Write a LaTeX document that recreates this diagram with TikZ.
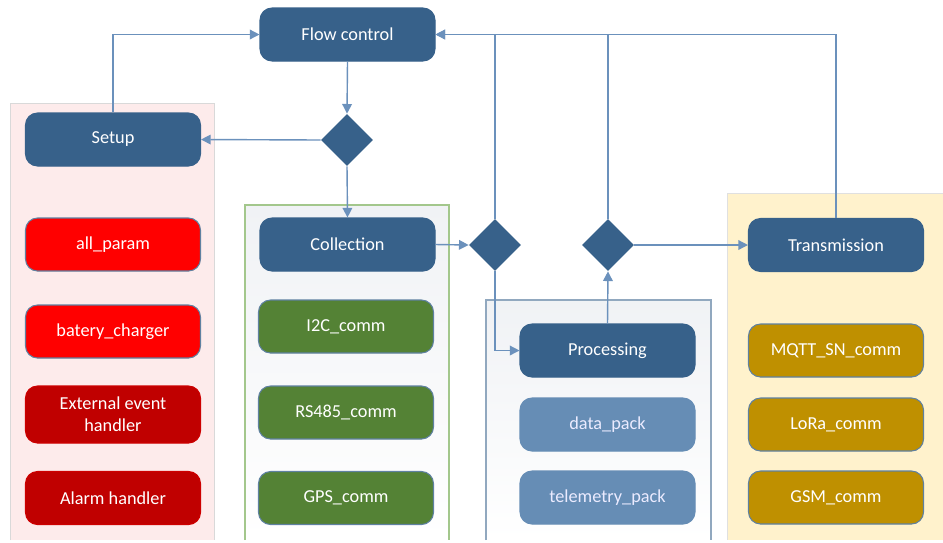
\documentclass[tikz,border=0pt]{standalone}
\usepackage{fontspec}
\setmainfont{Carlito}
\usetikzlibrary{shapes.geometric,arrows.meta}
\definecolor{boxblue}{HTML}{37618A}
\definecolor{linkblue}{HTML}{6B91BC}
\definecolor{lightblue}{HTML}{668DB5}
\definecolor{redbox}{HTML}{FF0000}
\definecolor{darkred}{HTML}{C00000}
\definecolor{greenbox}{HTML}{548235}
\definecolor{goldbox}{HTML}{BF9000}
\definecolor{pinkbg}{HTML}{FDEBEB}
\definecolor{yellowbg}{HTML}{FFF2CC}
\definecolor{greenedge}{HTML}{A3C78C}
\definecolor{greybg}{HTML}{F0F2F5}
\tikzset{
  block/.style={rounded corners=0.24cm, minimum width=3.5cm, minimum height=1.06cm,
    align=center, text=white, font=\fontsize{10.4}{12.5}\selectfont, line width=0.6pt},
  task/.style={block, fill=boxblue, draw=boxblue},
  choice/.style={diamond, fill=boxblue, minimum size=1.04cm, inner sep=0pt},
  link/.style={draw=linkblue, line width=0.8pt, -{Triangle[length=5.5pt,width=5.5pt]}},
  line/.style={draw=linkblue, line width=0.8pt}
}
\begin{document}
\begin{tikzpicture}
\useasboundingbox (0,0) rectangle (18.86,-10.84);
\fill[pinkbg] (0.2,-2.06) rectangle (4.28,-10.8);
\draw[draw=black!15] (0.2,-10.8) |- (4.28,-2.06) -- (4.28,-10.8);
\fill[top color=greybg, bottom color=white] (4.9,-4.1) rectangle (8.98,-10.8);
\draw[draw=greenedge, line width=0.6pt] (4.9,-10.8) |- (8.98,-4.1) -- (8.98,-10.8);
\fill[top color=greybg, bottom color=white] (9.72,-6.0) rectangle (14.22,-10.8);
\draw[draw=boxblue!55, line width=0.6pt] (9.72,-10.8) |- (14.22,-6.0) -- (14.22,-10.8);
\fill[yellowbg] (14.54,-3.86) rectangle (18.9,-10.8);
\draw[draw=black!12] (14.54,-10.8) |- (18.9,-3.86);

\node[task] (flow) at (6.95,-0.69) {Flow control};
\node[task] (setup) at (2.26,-2.79) {Setup};
\node[choice] (d1) at (6.94,-2.80) {};
\node[task] (coll) at (6.95,-4.89) {Collection};
\node[choice] (d2) at (9.90,-4.90) {};
\node[choice] (d3) at (12.16,-4.90) {};
\node[task] (trans) at (16.72,-4.90) {Transmission};
\node[task] (proc) at (12.15,-7.01) {Processing};

\node[block, fill=lightblue, draw=lightblue, text=white!92!blue] (datap) at (12.15,-8.49) {data\_pack};
\node[block, fill=lightblue, draw=lightblue, text=white!92!blue] (telep) at (12.15,-9.95) {telemetry\_pack};

\node[block, fill=redbox, draw=boxblue!80] (allp) at (2.26,-4.89) {all\_param};
\node[block, fill=redbox, draw=boxblue!80] (batt) at (2.26,-6.63) {batery\_charger};
\node[block, fill=darkred, draw=darkred!80!red, minimum height=1.14cm] (ext) at (2.26,-8.29) {External event\\handler};
\node[block, fill=darkred, draw=darkred!80!red] (alarm) at (2.26,-9.96) {Alarm handler};

\node[block, fill=greenbox, draw=boxblue!80] (i2c) at (6.92,-6.53) {I2C\_comm};
\node[block, fill=greenbox, draw=boxblue!80] (rs485) at (6.92,-8.25) {RS485\_comm};
\node[block, fill=greenbox, draw=boxblue!80] (gps) at (6.92,-9.96) {GPS\_comm};

\node[block, fill=goldbox, draw=boxblue!80] (mqtt) at (16.72,-7.01) {MQTT\_SN\_comm};
\node[block, fill=goldbox, draw=boxblue!80] (lora) at (16.72,-8.49) {LoRa\_comm};
\node[block, fill=goldbox, draw=boxblue!80] (gsm) at (16.72,-9.95) {GSM\_comm};

\draw[link] (setup.north) |- (flow.west);
\draw[link] (flow.south) -- (d1.north);
\draw[link] (d1.west) -- (setup.east);
\draw[link] (d1.south) -- (coll.north);
\draw[link] (coll.east) -- (d2.west);
\draw[link] (d2.north) |- (flow.east);
\draw[link] (d2.south) |- (proc.west);
\draw[link] (proc.north) -- (d3.south);
\draw[line] (d3.north) |- (flow.east);
\draw[link] (d3.east) -- (trans.west);
\draw[link] (trans.north) |- (flow.east);
\end{tikzpicture}
\end{document}
